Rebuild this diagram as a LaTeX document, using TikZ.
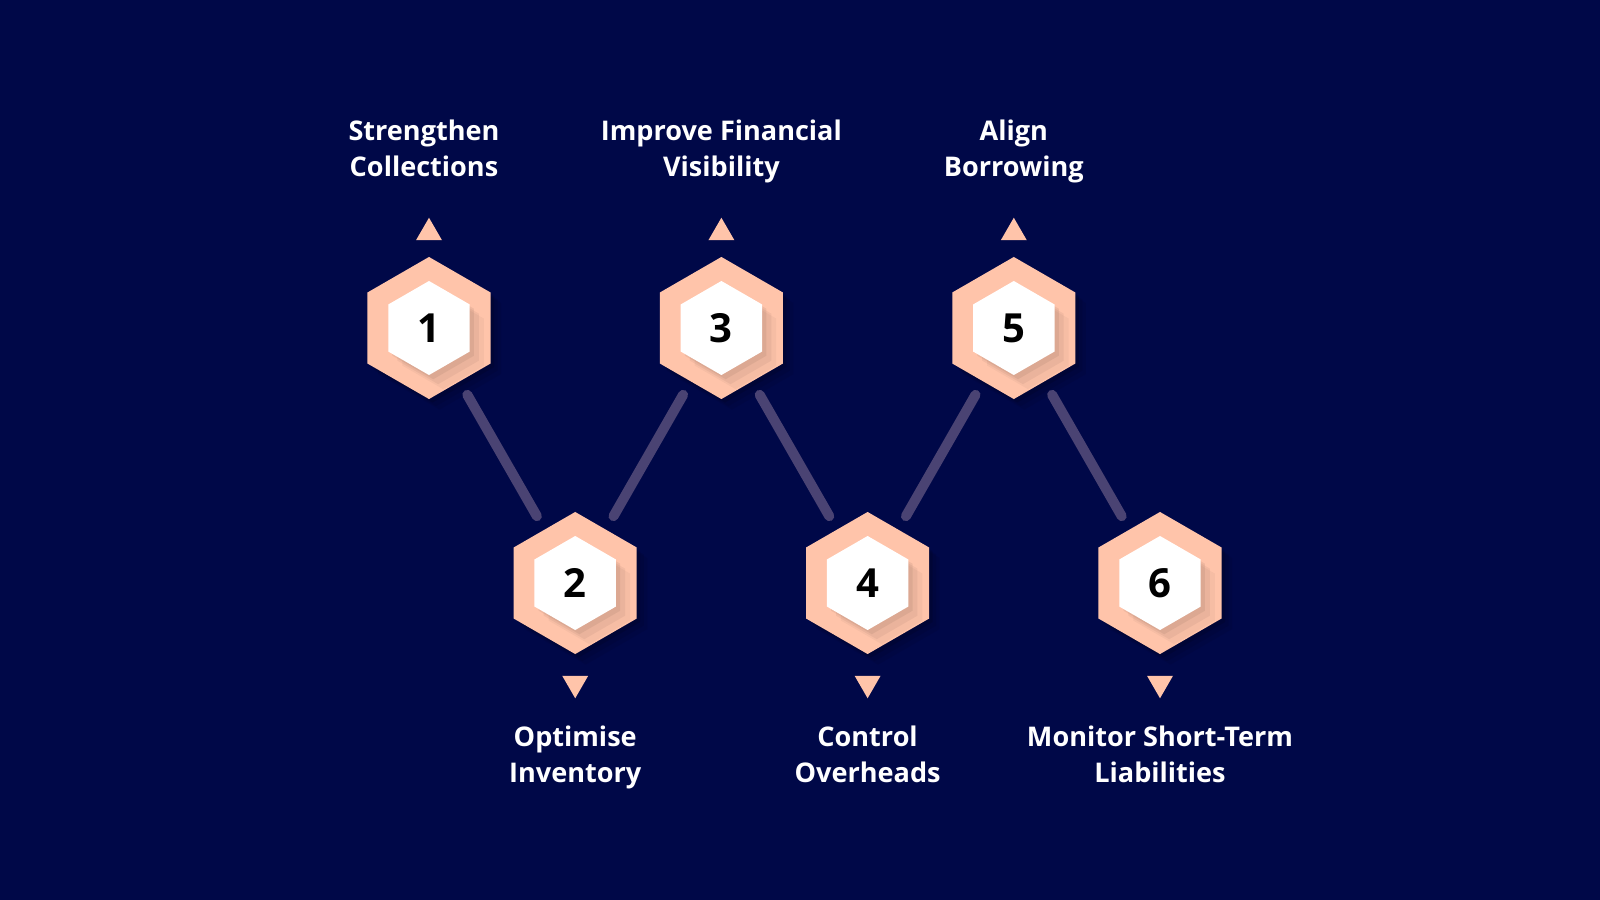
\documentclass[tikz,border=0pt]{standalone}
\usepackage{fontspec}
\setmainfont{Open Sans}
\usetikzlibrary{shapes.geometric,shadows,positioning}

\definecolor{navybg}{HTML}{000848}
\definecolor{peach}{HTML}{FFC4AA}
\definecolor{linkcol}{HTML}{4A4373}

\tikzset{
  outerhex/.style={regular polygon, regular polygon sides=6, shape border rotate=30,
    fill=peach, minimum size=1.42cm, inner sep=0pt, outer sep=0pt,
    general shadow={fill=black, opacity=0.10, shadow xshift=1pt, shadow yshift=-1pt},
    general shadow={fill=black, opacity=0.08, shadow xshift=2pt, shadow yshift=-2pt},
    general shadow={fill=black, opacity=0.06, shadow xshift=3pt, shadow yshift=-3pt}},
  innerhex/.style={regular polygon, regular polygon sides=6, shape border rotate=30,
    fill=white, minimum size=0.94cm, inner sep=0pt, text=black,
    font=\fontsize{11.4pt}{12pt}\selectfont\bfseries,
    general shadow={fill=black!60!peach, opacity=0.10, shadow xshift=1.2pt, shadow yshift=-1.2pt},
    general shadow={fill=black!60!peach, opacity=0.08, shadow xshift=2.6pt, shadow yshift=-2.6pt},
    general shadow={fill=black!60!peach, opacity=0.06, shadow xshift=4pt, shadow yshift=-4pt}},
  markup/.style={regular polygon, regular polygon sides=3, fill=peach,
    minimum size=0.3cm, inner sep=0pt},
  markdown/.style={markup, shape border rotate=180},
  steplabel/.style={text=white, align=center, inner sep=0pt,
    font=\fontsize{7.7pt}{10.3pt}\selectfont\bfseries},
  link/.style={draw=linkcol, line width=0.1cm, line cap=round,
    shorten <=0.155cm, shorten >=0.155cm},
}

\begin{document}
\begin{tikzpicture}[x=0.01cm, y=-0.01cm]
  \fill[navybg] (0,0) rectangle (1600,900);
  \useasboundingbox (0,0) rectangle (1600,900);

  % hexagons, odd ones on the upper row
  \foreach \i in {1,...,6}{
    \pgfmathsetmacro{\hx}{429+146.2*(\i-1)}
    \pgfmathsetmacro{\hy}{isodd(\i) ? 328 : 583}
    \node[outerhex] (h\i) at (\hx,\hy) {};
    \node[innerhex] (n\i) at (h\i) {\i};
  }

  % zigzag
  \draw[link] (h1) -- (h2);
  \draw[link] (h2) -- (h3);
  \draw[link] (h3) -- (h4);
  \draw[link] (h4) -- (h5);
  \draw[link] (h5) -- (h6);

  % markers
  \node[markup, above=0.16cm of h1] (t1) {};
  \node[markup, above=0.16cm of h3] (t3) {};
  \node[markup, above=0.16cm of h5] (t5) {};
  \node[markdown, below=0.21cm of h2] (t2) {};
  \node[markdown, below=0.21cm of h4] (t4) {};
  \node[markdown, below=0.21cm of h6] (t6) {};

  % labels
  \coordinate (toprow) at (0,119);
  \coordinate (botrow) at (0,725);
  \node[steplabel, anchor=north] (l1) at ([xshift=-0.05cm]h1 |- toprow) {Strengthen\\Collections};
  \node[steplabel, anchor=north] (l3) at (h3 |- toprow) {Improve Financial\\Visibility};
  \node[steplabel, anchor=north] (l5) at (h5 |- toprow) {Align\\Borrowing};
  \node[steplabel, anchor=north] (l2) at (h2 |- botrow) {Optimise\\Inventory};
  \node[steplabel, anchor=north] (l4) at (h4 |- botrow) {Control\\Overheads};
  \node[steplabel, anchor=north] (l6) at (h6 |- botrow) {Monitor Short-Term\\Liabilities};
\end{tikzpicture}
\end{document}
